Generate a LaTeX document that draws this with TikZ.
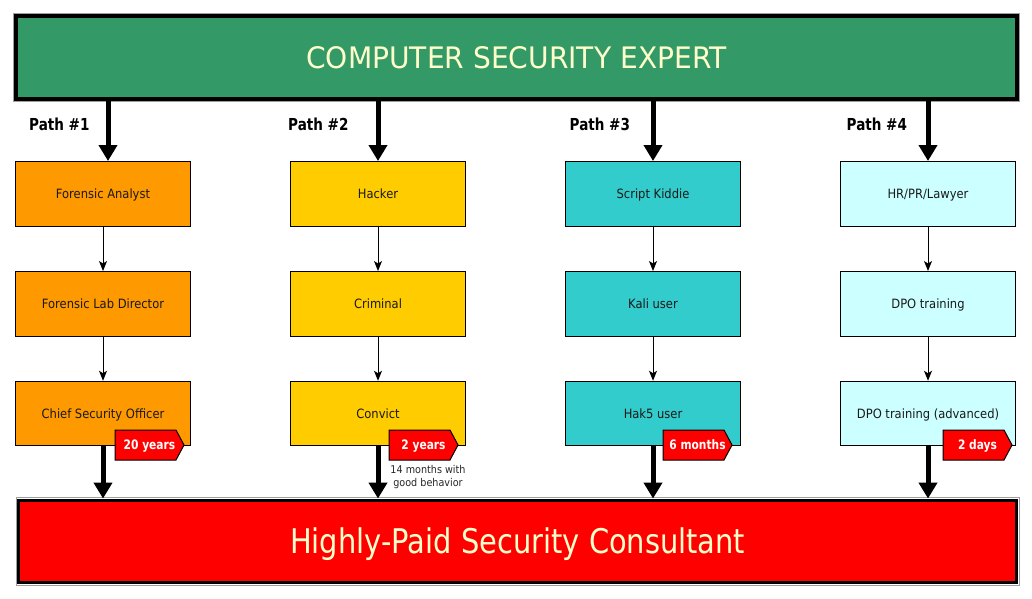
\documentclass[tikz,border=0pt]{standalone}
\usepackage{fontspec}
\usetikzlibrary{arrows.meta}
\newfontfamily\boxfont{DejaVu Sans}[FakeStretch=0.9]
\newfontfamily\titlefont{DejaVu Sans}[FakeStretch=0.95]
\newfontfamily\bottomfont{DejaVu Sans}[FakeStretch=0.85]
\newfontfamily\boldfont{DejaVu Sans}[FakeStretch=0.82]
\definecolor{topgreen}{HTML}{339966}
\definecolor{lightyel}{HTML}{FFFFCC}
\definecolor{colA}{HTML}{FF9900}
\definecolor{colB}{HTML}{FFCC00}
\definecolor{colC}{HTML}{33CCCC}
\definecolor{colD}{HTML}{CCFFFF}
\definecolor{tagred}{HTML}{FF0000}
\begin{document}
\begin{tikzpicture}[x=1pt,y=-1pt,
  banner/.style={draw=black, line width=3.5pt, inner sep=0pt, text=lightyel, text depth=0pt},
  frameline/.style={draw=gray!75, line width=0.8pt},
  stepbox/.style={draw=black, line width=1pt, minimum width=175pt, minimum height=64.5pt,
    inner sep=0pt, text=black!90, text height=9.3pt, text depth=0pt,
    font=\boxfont\fontsize{12.8}{14}\selectfont},
  pathlabel/.style={anchor=base west, inner sep=0pt, font=\boldfont\bfseries\fontsize{16.5}{18}\selectfont},
  tagshape/.style={draw=black, line width=1pt, fill=tagred, line join=miter},
  tagtext/.style={inner sep=0pt, text=white, text height=9.5pt, text depth=0pt,
    font=\boldfont\bfseries\fontsize{13}{15}\selectfont},
  note/.style={inner sep=0pt, align=center, text=black!85, font=\boxfont\fontsize{10.7}{12.3}\selectfont},
  thickarrow/.style={line width=5pt, -{Triangle[width=18pt,length=16pt]}},
  thinarrow/.style={line width=1pt, -{Stealth[width=8pt,length=10pt,inset=2.5pt]}}
]
\useasboundingbox (0,0) rectangle (1032,598);

% banners
\node[banner, fill=topgreen, minimum width=1001pt, minimum height=83pt, text height=21.6pt,
  font=\titlefont\fontsize{29.6}{32}\selectfont] (top) at (516.5,57.5) {COMPUTER SECURITY EXPERT};
\draw[frameline] ([shift={(-0.9,-0.9)}]top.north west) rectangle ([shift={(0.9,0.9)}]top.south east);

\node[banner, fill=tagred, minimum width=998pt, minimum height=82pt, text height=24.8pt,
  font=\bottomfont\fontsize{34}{36}\selectfont] (bot) at (517.7,541.3) {Highly-Paid Security Consultant};
\draw[frameline] ([shift={(-0.9,-0.9)}]bot.north west) rectangle ([shift={(0.9,0.9)}]bot.south east);

% path labels
\node[pathlabel] (p1) at (29,130) {Path \#1};
\node[pathlabel] (p2) at (288,130) {Path \#2};
\node[pathlabel] (p3) at (569.5,130) {Path \#3};
\node[pathlabel] (p4) at (846.5,130) {Path \#4};

% boxes
\node[stepbox, fill=colA] (a1) at (103,193.75) {Forensic Analyst};
\node[stepbox, fill=colA] (b1) at (103,303.75) {Forensic Lab Director};
\node[stepbox, fill=colA] (c1) at (103,413.5) {Chief Security Officer};

\node[stepbox, fill=colB] (a2) at (378,193.75) {Hacker};
\node[stepbox, fill=colB] (b2) at (378,303.75) {Criminal};
\node[stepbox, fill=colB] (c2) at (378,413.5) {Convict};

\node[stepbox, fill=colC] (a3) at (653,193.75) {Script Kiddie};
\node[stepbox, fill=colC] (b3) at (653,303.75) {Kali user};
\node[stepbox, fill=colC] (c3) at (653,413.5) {Hak5 user};

\node[stepbox, fill=colD] (a4) at (928,193.75) {HR/PR/Lawyer};
\node[stepbox, fill=colD] (b4) at (928,303.75) {DPO training};
\node[stepbox, fill=colD] (c4) at (928,413.5) {DPO training (advanced)};

% thick arrows from top banner
\coordinate (t1) at ([xshift=5pt]a1.north);
\draw[thickarrow] (top.south -| t1) -- (t1);
\draw[thickarrow] (top.south -| a2.north) -- (a2.north);
\draw[thickarrow] (top.south -| a3.north) -- (a3.north);
\draw[thickarrow] (top.south -| a4.north) -- (a4.north);

% thin arrows
\draw[thinarrow] (a1.south) -- (b1.north);
\draw[thinarrow] (b1.south) -- (c1.north);
\draw[thinarrow] (a2.south) -- (b2.north);
\draw[thinarrow] (b2.south) -- (c2.north);
\draw[thinarrow] (a3.south) -- (b3.north);
\draw[thinarrow] (b3.south) -- (c3.north);
\draw[thinarrow] (a4.south) -- (b4.north);
\draw[thinarrow] (b4.south) -- (c4.north);

% thick arrows to bottom banner
\draw[thickarrow] (c1.south) -- (c1.south |- bot.north);
\draw[thickarrow] (c2.south) -- (c2.south |- bot.north);
\draw[thickarrow] (c3.south) -- (c3.south |- bot.north);
\draw[thickarrow] (c4.south) -- (c4.south |- bot.north);

% duration tags
\draw[tagshape] (115,430) -- (176,430) -- (184,445) -- (176,460) -- (115,460) -- cycle;
\node[tagtext] (g1) at (149.5,445) {20 years};
\draw[tagshape] (389,430) -- (450,430) -- (458,445) -- (450,460) -- (389,460) -- cycle;
\node[tagtext] (g2) at (423.5,445) {2 years};
\draw[tagshape] (663,430) -- (724,430) -- (732,445) -- (724,460) -- (663,460) -- cycle;
\node[tagtext] (g3) at (697.5,445) {6 months};
\draw[tagshape] (943,430) -- (1004,430) -- (1012,445) -- (1004,460) -- (943,460) -- cycle;
\node[tagtext] (g4) at (977.5,445) {2 days};

% note
\node[note] (n2) at (428,477) {14 months with\\good behavior};
\end{tikzpicture}
\end{document}
